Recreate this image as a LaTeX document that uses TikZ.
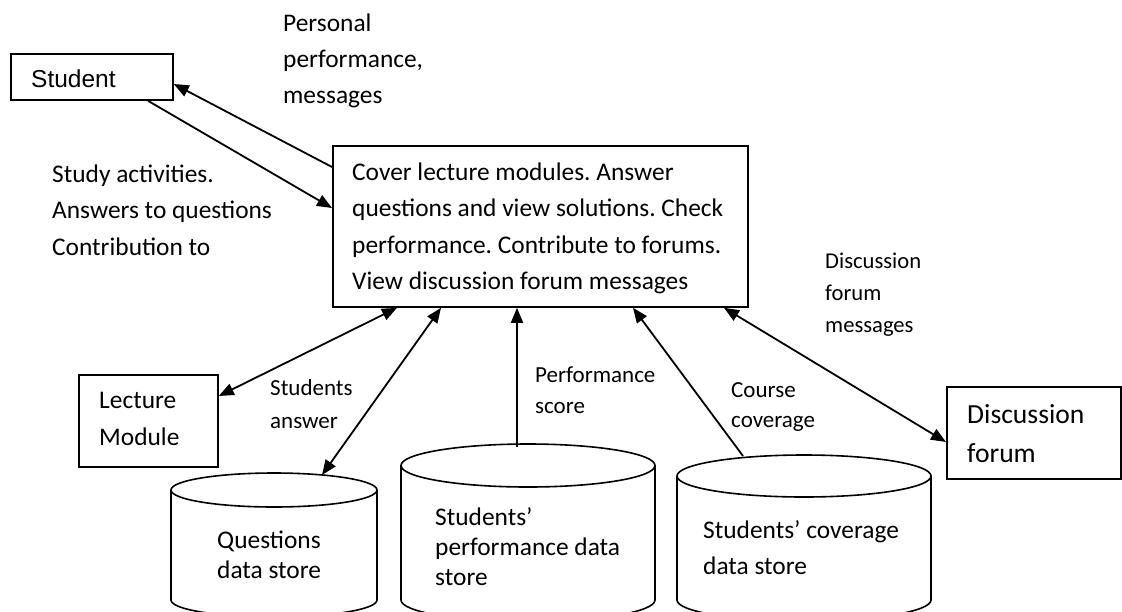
\documentclass[tikz,border=0pt]{standalone}
\usepackage{fontspec}
\setmainfont{Carlito}
\newfontfamily\arialfont{Liberation Sans}
\usetikzlibrary{arrows.meta,calc}
\frenchspacing
\begin{document}
\begin{tikzpicture}[x=1pt,y=-1pt,
  box/.style={draw, line width=1.8pt, inner sep=0, anchor=north west},
  lbl/.style={inner sep=0, align=left, anchor=base west, font=\fontsize{25.4}{36.5}\selectfont},
  lblsm/.style={lbl, font=\fontsize{23}{32}\selectfont},
  arr/.style={line width=1.8pt, -{Triangle[length=15pt,width=12pt]}},
  darr/.style={line width=1.8pt, {Triangle[length=15pt,width=12pt]}-{Triangle[length=15pt,width=12pt]}},
  cyl/.style={line width=1.6pt}]
\useasboundingbox (0,0) rectangle (1122,611);

% boxes
\node[box, minimum width=162pt, minimum height=46pt] (student) at (10,53) {};
\node[lbl, font=\arialfont\fontsize{24.5}{30}\selectfont] (studenttxt) at (31,87) {Student};

\node[box, minimum width=415pt, minimum height=161pt] (main) at (332,145) {};
\node[lbl] (maintxt) at (352,289.5) {Cover lecture modules. Answer\\questions and view solutions. Check\\performance. Contribute to forums.\\View discussion forum messages};

\node[box, minimum width=139pt, minimum height=92pt] (lecture) at (78,374) {};
\node[lbl, font=\fontsize{25.4}{37}\selectfont] (lecturetxt) at (99,445) {Lecture\\Module};

\node[box, minimum width=174pt, minimum height=92pt] (disc) at (946,386) {};
\node[lbl, font=\fontsize{27.6}{39}\selectfont] (disctxt) at (967,462) {Discussion\\forum};

% cylinders
\draw[cyl] (274,490) ellipse[x radius=103pt, y radius=17pt];
\draw[cyl] (171,490) -- (171,600) arc[start angle=180, end angle=360, x radius=103pt, y radius=17pt] -- (377,490);
\coordinate (qtop) at (322,475);
\node[lbl, font=\fontsize{25.4}{30}\selectfont] (qtxt) at (217,578) {Questions\\data store};

\draw[cyl] (528,465.5) ellipse[x radius=127pt, y radius=21.5pt];
\draw[cyl] (401,465.5) -- (401,600) arc[start angle=180, end angle=360, x radius=127pt, y radius=21.5pt] -- (655,465.5);
\coordinate (ptop) at (517,447);
\node[lbl, font=\fontsize{25.4}{30}\selectfont] (ptxt) at (435,585) {Students'\\performance data\\store};

\draw[cyl] (804,476) ellipse[x radius=127pt, y radius=21pt];
\draw[cyl] (677,476) -- (677,600) arc[start angle=180, end angle=360, x radius=127pt, y radius=21pt] -- (931,476);
\coordinate (ctop) at (743,456);
\node[lbl, font=\fontsize{25.4}{36}\selectfont] (ctxt) at (703,574) {Students' coverage\\data store};

% connectors
\draw[arr] ($(main.north west)+(0,22)$) -- ($(student.north east)+(0,31)$);
\draw[arr] ($(student.south west)+(138,0)$) -- ($(main.north west)+(0,63)$);
\draw[darr] ($(lecture.north east)+(0,22)$) -- ($(main.south west)+(65,0)$);
\draw[darr] (qtop) -- ($(main.south west)+(109,0)$);
\draw[arr] (ptop) -- ($(main.south west)+(185,0)$);
\draw[arr] (ctop) -- ($(main.south west)+(301,0)$);
\draw[darr] ($(main.south west)+(392,0)$) -- ($(disc.north west)+(0,56)$);

% labels
\node[lbl, font=\fontsize{25.4}{36}\selectfont] (l1) at (283,103) {Personal\\performance,\\messages};
\node[lbl] (l2) at (52,255) {Study activities.\\Answers to questions\\Contribution to};
\node[lblsm, font=\fontsize{23}{33}\selectfont] (l3) at (270,428) {Students\\answer};
\node[lblsm, font=\fontsize{23}{31}\selectfont] (l4) at (535,413) {Performance\\score};
\node[lblsm, font=\fontsize{23}{30.5}\selectfont] (l5) at (731,427.5) {Course\\coverage};
\node[lblsm, font=\fontsize{22.6}{32}\selectfont] (l6) at (825,332) {Discussion\\forum\\messages};
\end{tikzpicture}
\end{document}
